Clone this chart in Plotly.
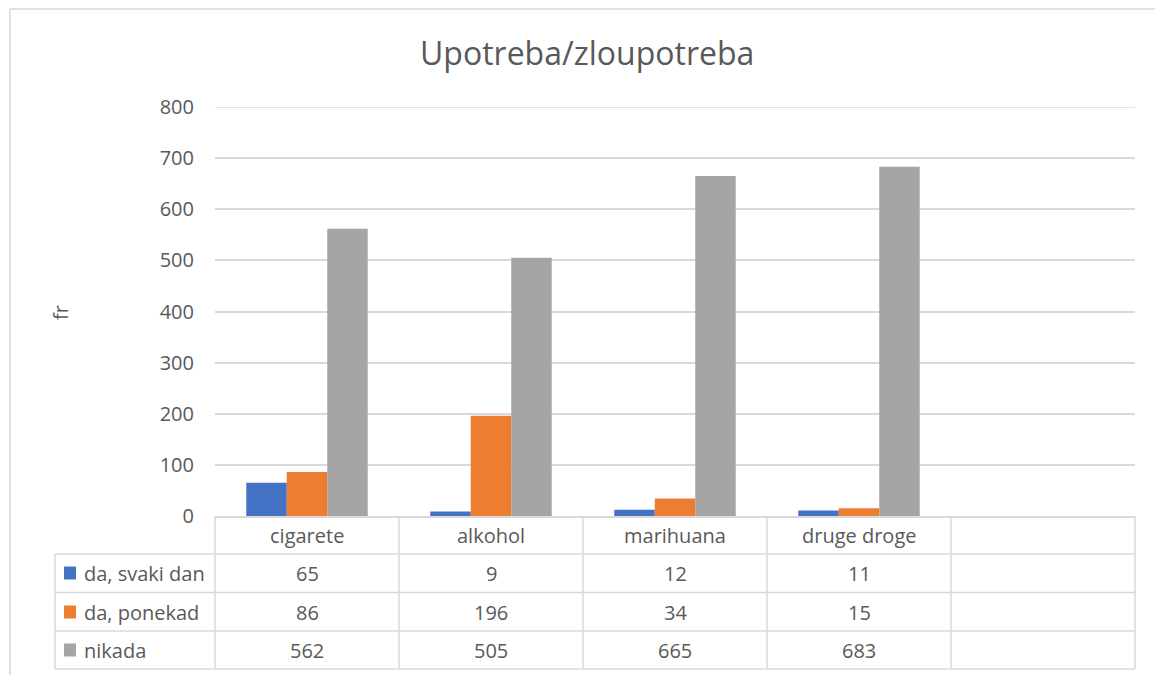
import plotly.graph_objects as go

categories = ["cigarete", "alkohol", "marihuana", "druge droge"]
series_names = ["da, svaki dan", "da, ponekad", "nikada"]
da_svaki_dan = [65, 9, 12, 11]
da_ponekad = [86, 196, 34, 15]
nikada = [562, 505, 665, 683]
colors = ["#4472C4", "#ED7D31", "#A5A5A5"]
y_ticks = [0, 100, 200, 300, 400, 500, 600, 700, 800]

W, H = 1155, 675
L, R, T, B = 215, 20, 107, 159
PW, PH = W - L - R, H - T - B
Y0 = H - B  # pixel y of plot bottom


def px(x):
    return (x - L) / PW


def py(y):
    return (Y0 - y) / PH


TXT = "#595959"
GRID = "#D9D9D9"
FONT = "Open Sans"

fig = go.Figure()
all_series = [da_svaki_dan, da_ponekad, nikada]
for name, vals, col in zip(series_names, all_series, colors):
    fig.add_trace(go.Bar(x=categories, y=vals, name=name, marker_color=col,
                         marker_line_width=0, showlegend=False, hoverinfo="skip"))

shapes = []
annotations = []

# top gridline (at the edge of the range)
shapes.append(dict(type="line", xref="paper", yref="y", x0=0, x1=1,
                   y0=y_ticks[-1], y1=y_ticks[-1], layer="below",
                   line=dict(color=GRID, width=1.5)))

# outer chart border (left & top)
shapes.append(dict(type="line", xref="paper", yref="paper", x0=px(10), x1=px(10),
                   y0=py(675), y1=py(9), line=dict(color=GRID, width=1.5)))
shapes.append(dict(type="line", xref="paper", yref="paper", x0=px(10), x1=px(1155),
                   y0=py(9), y1=py(9), line=dict(color=GRID, width=1.5)))

# data table grid
row_lines = [554, 592.5, 631, 669]
for yl in row_lines:
    shapes.append(dict(type="line", xref="paper", yref="paper", x0=px(55), x1=1,
                       y0=py(yl), y1=py(yl), line=dict(color=GRID, width=1.5)))
shapes.append(dict(type="line", xref="paper", yref="paper", x0=px(55), x1=px(55),
                   y0=py(554), y1=py(669), line=dict(color=GRID, width=1.5)))
for k in range(6):
    shapes.append(dict(type="line", xref="paper", yref="paper", x0=k / 5, x1=k / 5,
                       y0=0, y1=py(669), line=dict(color=GRID, width=1.5)))

# category row
for c in categories:
    annotations.append(dict(x=c, xref="x", y=py(535), yref="paper", text=c,
                            showarrow=False, font=dict(size=20, color=TXT, family=FONT),
                            xanchor="center", yanchor="middle"))

row_centers = [573, 612, 650]
for name, vals, col, yc in zip(series_names, all_series, colors, row_centers):
    shapes.append(dict(type="rect", xref="paper", yref="paper", x0=px(64), x1=px(76),
                       y0=py(yc - 6.5), y1=py(yc + 6.5), fillcolor=col, line=dict(width=0)))
    annotations.append(dict(x=px(82), xref="paper", y=py(yc), yref="paper", text=name,
                            showarrow=False, font=dict(size=20, color=TXT, family=FONT),
                            xanchor="left", yanchor="middle"))
    for c, v in zip(categories, vals):
        annotations.append(dict(x=c, xref="x", y=py(yc), yref="paper", text=str(v),
                                showarrow=False, font=dict(size=20, color=TXT, family=FONT),
                                xanchor="center", yanchor="middle"))

# title and axis title
annotations.append(dict(x=px(587), xref="paper", y=py(52), yref="paper",
                        text="Upotreba/zloupotreba", showarrow=False,
                        font=dict(size=32, color=TXT, family=FONT),
                        xanchor="center", yanchor="middle"))
annotations.append(dict(x=px(60), xref="paper", y=py(313), yref="paper", text="fr",
                        showarrow=False, textangle=-90,
                        font=dict(size=20, color=TXT, family=FONT),
                        xanchor="center", yanchor="middle"))

fig.update_layout(
    width=W, height=H,
    margin=dict(l=L, r=R, t=T, b=B, pad=0),
    paper_bgcolor="white", plot_bgcolor="white",
    barmode="group", bargap=0.34, bargroupgap=0,
    font=dict(family=FONT, color=TXT, size=20),
    shapes=shapes, annotations=annotations,
    xaxis=dict(type="category", categoryarray=categories, range=[-0.5, 4.5],
               showticklabels=False, showgrid=False, zeroline=False,
               showline=True, linecolor=GRID, linewidth=1.5, ticks=""),
    yaxis=dict(range=[0, 800], tickvals=y_ticks, showgrid=True, gridcolor=GRID,
               gridwidth=1.5, zeroline=False, showline=False, ticks="",
               ticklabelstandoff=20, tickfont=dict(size=20, color=TXT, family=FONT)),
)

fig.write_html("out.html", config={"displayModeBar": False},
               post_script="document.body.style.margin='0';document.body.style.overflow='hidden';")
